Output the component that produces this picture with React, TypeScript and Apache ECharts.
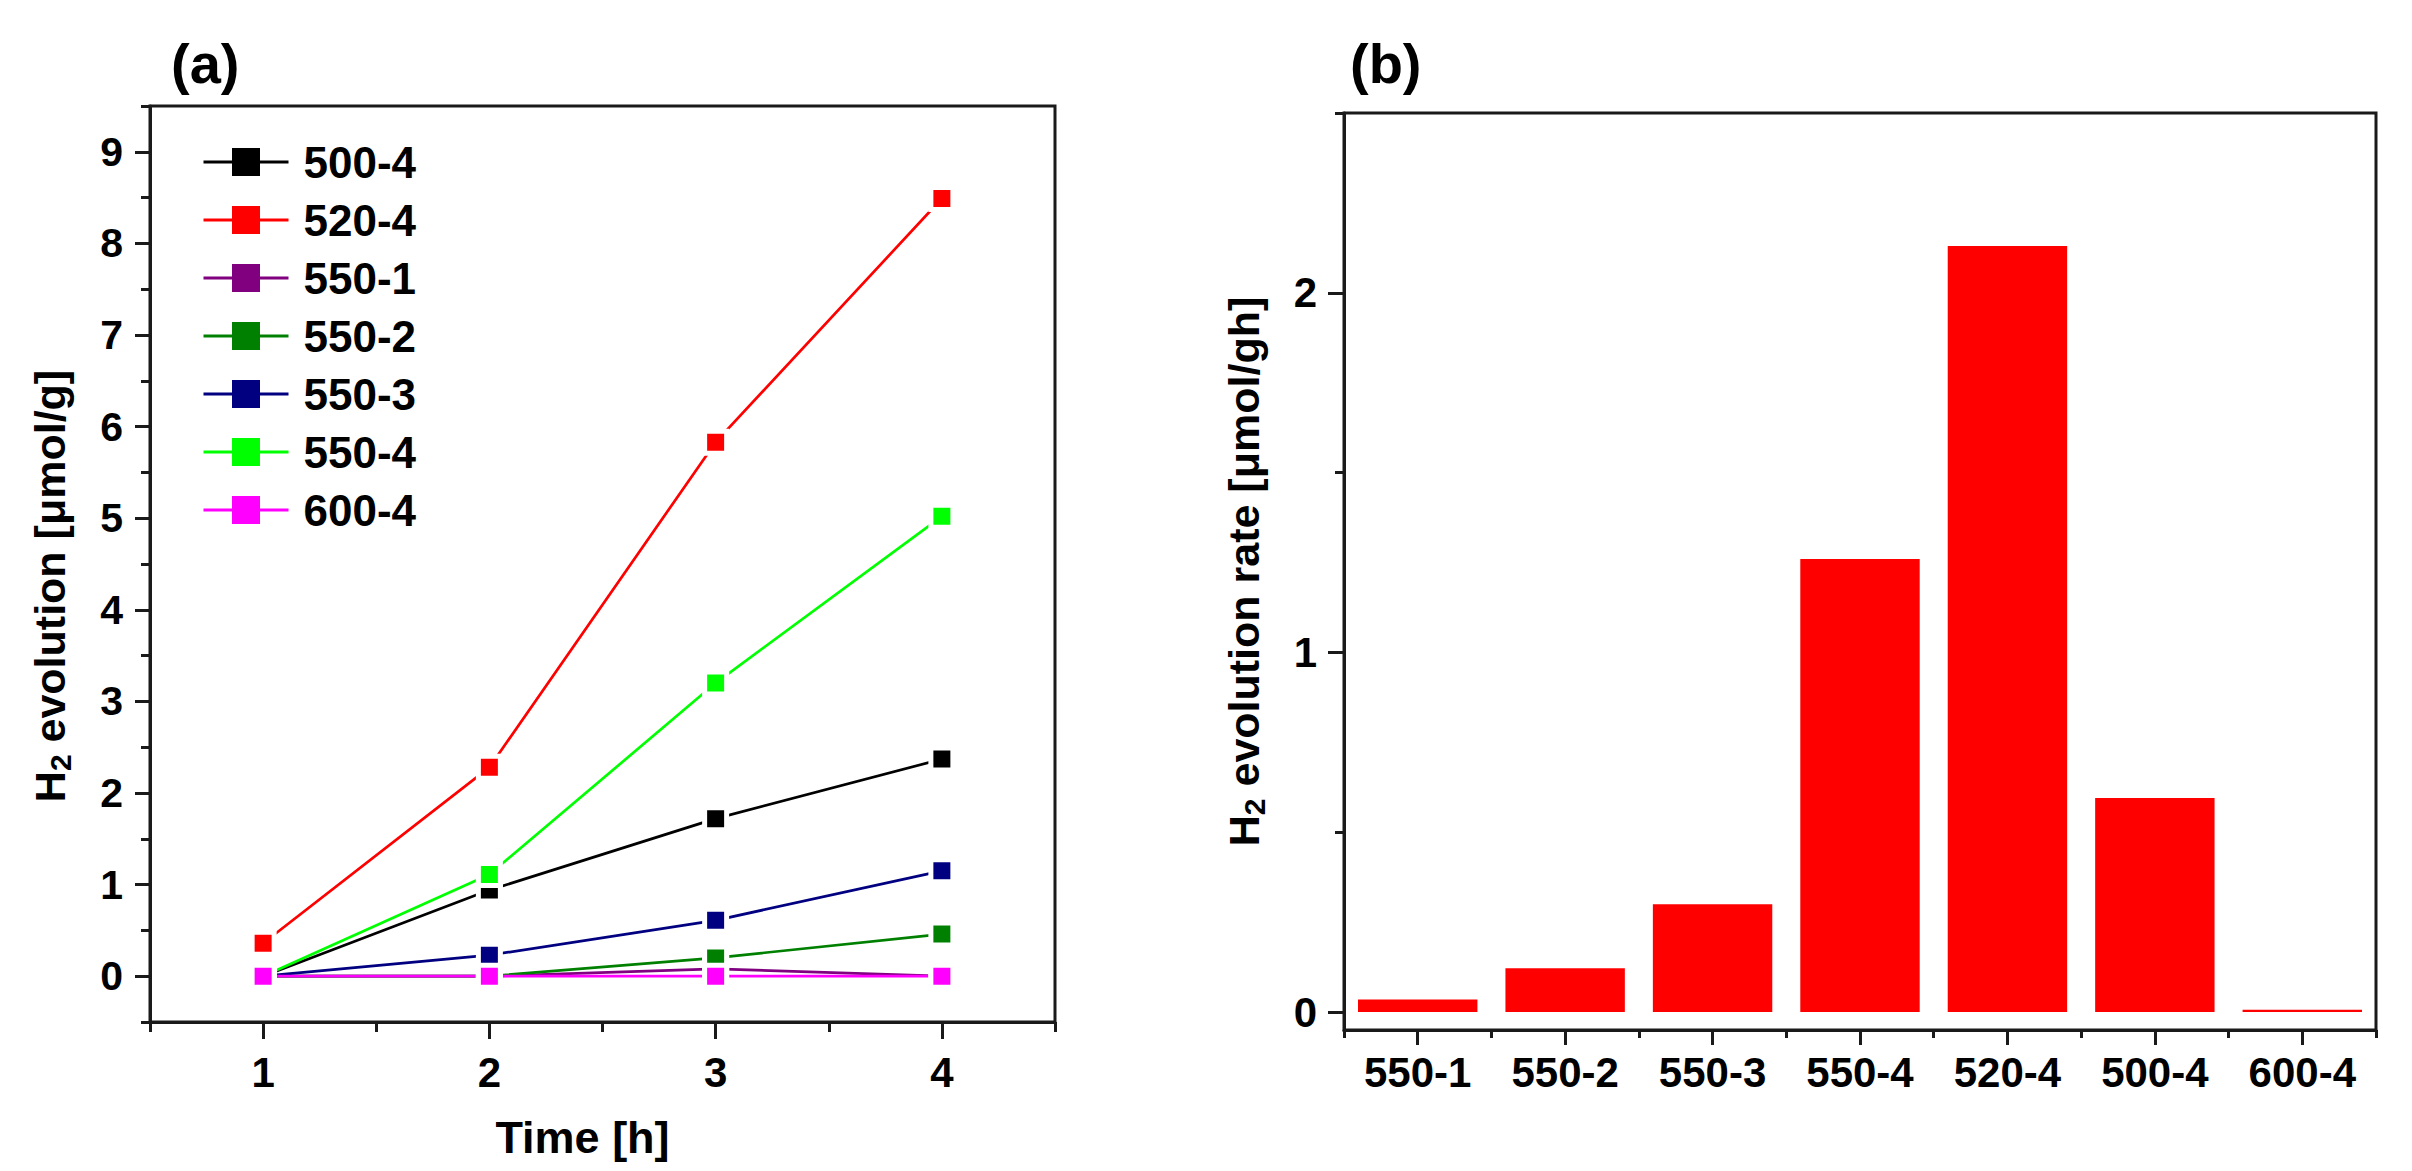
import React, { useEffect, useRef } from "react";
import * as echarts from "echarts";

const FONT = "'Liberation Sans', Arial, sans-serif";

// (a) H2 evolution over time
const TIMES = [1, 2, 3, 4];
const S500_4 = [0, 0.94, 1.72, 2.37];
const S520_4 = [0.36, 2.28, 5.83, 8.49];
const S550_1 = [0, 0, 0.08, 0];
const S550_2 = [0, 0, 0.2, 0.46];
const S550_3 = [0, 0.23, 0.61, 1.15];
const S550_4 = [0, 1.11, 3.2, 5.02];
const S600_4 = [0, 0, 0, 0];
const LINE_NAMES = ["500-4", "520-4", "550-1", "550-2", "550-3", "550-4", "600-4"];
const LINE_COLORS = ["#000000", "#ff0000", "#800080", "#008000", "#000080", "#00ff00", "#ff00ff"];
const LINE_VALUES = [S500_4, S520_4, S550_1, S550_2, S550_3, S550_4, S600_4];

const TIME_TICKS = [1, 2, 3, 4];
const TIME_MINOR = [0.5, 1.5, 2.5, 3.5, 4.5];
const EVO_TICKS = [0, 1, 2, 3, 4, 5, 6, 7, 8, 9];
const EVO_MINOR = [-0.5, 0.5, 1.5, 2.5, 3.5, 4.5, 5.5, 6.5, 7.5, 8.5, 9.5];

// (b) H2 evolution rate per sample
const RATE_CATEGORIES = ["550-1", "550-2", "550-3", "550-4", "520-4", "500-4", "600-4"];
const RATE_VALUES = [0.035, 0.122, 0.3, 1.26, 2.13, 0.595, 0.006];
const RATE_TICKS = [0, 1, 2];
const RATE_MINOR = [0.5, 1.5, 2.5];

const AXIS_COLOR = "#1a1a1a";

const nameRich = {
    b: { fontSize: 43, fontWeight: "bold" as const, fontFamily: FONT, color: "#000", lineHeight: 50 },
    s: { fontSize: 30, fontWeight: "bold" as const, fontFamily: FONT, color: "#000", lineHeight: 16, verticalAlign: "bottom" as const },
};

const App: React.FC = () => {
    const ref = useRef<HTMLDivElement | null>(null);

    useEffect(() => {
        document.body.style.margin = "0";
        if (!ref.current) return;
        const inst = echarts.init(ref.current, undefined, { renderer: "svg" });

        const tickLabel = { fontSize: 41, fontWeight: "bold" as const, fontFamily: FONT, color: "#000" };

        inst.setOption({
            animation: false,
            backgroundColor: "#fff",
            title: [
                { text: "(a)", left: 166, top: 30, textStyle: { fontSize: 56, fontWeight: "bold", fontFamily: FONT, color: "#000" } },
                { text: "(b)", left: 1345, top: 30, textStyle: { fontSize: 56, fontWeight: "bold", fontFamily: FONT, color: "#000" } },
            ],
            legend: {
                data: LINE_NAMES,
                orient: "vertical",
                left: 197,
                top: 135,
                itemWidth: 85,
                itemHeight: 35,
                itemGap: 14,
                selectedMode: false,
                itemStyle: { borderWidth: 0 },
                lineStyle: { width: 3 },
                textStyle: { fontSize: 44, fontWeight: "bold", fontFamily: FONT, color: "#000", padding: [0, 0, 0, 10] },
            },
            grid: [
                { left: 150, top: 106, width: 905, height: 916, show: true, borderColor: AXIS_COLOR, borderWidth: 3, backgroundColor: "transparent" },
                { left: 1344, top: 113, width: 1032, height: 917, show: true, borderColor: AXIS_COLOR, borderWidth: 3, backgroundColor: "transparent" },
            ],
            xAxis: [
                {
                    type: "value", gridIndex: 0, position: "bottom", min: 0.5, max: 4.5,
                    axisLine: { show: true, onZero: false, lineStyle: { color: AXIS_COLOR, width: 3 } },
                    axisTick: { show: true, inside: false, length: 17, customValues: TIME_TICKS, lineStyle: { color: AXIS_COLOR, width: 3 } },
                    axisLabel: { ...tickLabel, fontSize: 42, margin: 29, customValues: TIME_TICKS },
                    splitLine: { show: false },
                    name: "Time [h]", nameLocation: "middle", nameGap: 93,
                    nameTextStyle: { fontSize: 45, fontWeight: "bold", fontFamily: FONT, color: "#000", padding: [0, 40, 0, 0] },
                },
                {
                    type: "value", gridIndex: 0, position: "bottom", min: 0.5, max: 4.5,
                    axisLine: { show: false, onZero: false },
                    axisTick: { show: true, inside: false, length: 10, customValues: TIME_MINOR, lineStyle: { color: AXIS_COLOR, width: 3 } },
                    axisLabel: { show: false },
                    splitLine: { show: false },
                },
                {
                    type: "category", gridIndex: 1, position: "bottom", data: RATE_CATEGORIES,
                    axisLine: { show: true, onZero: false, lineStyle: { color: AXIS_COLOR, width: 3 } },
                    axisTick: { show: true, inside: false, length: 15, alignWithLabel: true, lineStyle: { color: AXIS_COLOR, width: 3 } },
                    axisLabel: { ...tickLabel, fontSize: 42, margin: 21, interval: 0 },
                    splitLine: { show: false },
                },
                {
                    type: "category", gridIndex: 1, position: "bottom", data: RATE_CATEGORIES,
                    axisLine: { show: false, onZero: false },
                    axisTick: { show: true, inside: false, length: 8, alignWithLabel: false, interval: 0, lineStyle: { color: AXIS_COLOR, width: 3 } },
                    axisLabel: { show: false },
                    splitLine: { show: false },
                },
            ],
            yAxis: [
                {
                    type: "value", gridIndex: 0, position: "left", min: -0.5, max: 9.5,
                    axisLine: { show: true, onZero: false, lineStyle: { color: AXIS_COLOR, width: 3 } },
                    axisTick: { show: true, inside: false, length: 15, customValues: EVO_TICKS, lineStyle: { color: AXIS_COLOR, width: 3 } },
                    axisLabel: { ...tickLabel, margin: 27, customValues: EVO_TICKS },
                    splitLine: { show: false },
                    name: "{b|H}{s|2}{b| evolution [μmol/g]}", nameLocation: "middle", nameGap: 75,
                    nameTextStyle: { rich: nameRich, padding: [0, 44, 0, 0] },
                },
                {
                    type: "value", gridIndex: 0, position: "left", min: -0.5, max: 9.5,
                    axisLine: { show: false, onZero: false },
                    axisTick: { show: true, inside: false, length: 9, customValues: EVO_MINOR, lineStyle: { color: AXIS_COLOR, width: 3 } },
                    axisLabel: { show: false },
                    splitLine: { show: false },
                },
                {
                    type: "value", gridIndex: 1, position: "left", min: -0.05, max: 2.5,
                    axisLine: { show: true, onZero: false, lineStyle: { color: AXIS_COLOR, width: 3 } },
                    axisTick: { show: true, inside: false, length: 16, customValues: RATE_TICKS, lineStyle: { color: AXIS_COLOR, width: 3 } },
                    axisLabel: { ...tickLabel, fontSize: 42, margin: 27, customValues: RATE_TICKS },
                    splitLine: { show: false },
                    name: "{b|H}{s|2}{b| evolution rate [μmol/gh]}", nameLocation: "middle", nameGap: 75,
                    nameTextStyle: { rich: nameRich },
                },
                {
                    type: "value", gridIndex: 1, position: "left", min: -0.05, max: 2.5,
                    axisLine: { show: false, onZero: false },
                    axisTick: { show: true, inside: false, length: 9, customValues: RATE_MINOR, lineStyle: { color: AXIS_COLOR, width: 3 } },
                    axisLabel: { show: false },
                    splitLine: { show: false },
                },
            ],
            series: [
                ...LINE_NAMES.map((name, i) => ({
                    name,
                    type: "line",
                    xAxisIndex: 0,
                    yAxisIndex: 0,
                    data: TIMES.map((t, j) => [t, LINE_VALUES[i][j]]),
                    symbol: "rect",
                    symbolSize: 22,
                    lineStyle: { color: LINE_COLORS[i], width: 2.7 },
                    itemStyle: { color: LINE_COLORS[i], borderColor: "#fff", borderWidth: 5 },
                    emphasis: { disabled: true },
                })),
                {
                    name: "rate",
                    type: "bar",
                    xAxisIndex: 2,
                    yAxisIndex: 2,
                    data: RATE_VALUES,
                    barCategoryGap: "19%",
                    itemStyle: { color: "#ff0000" },
                    emphasis: { disabled: true },
                },
            ],
        });

        return () => {
            inst.dispose();
        };
    }, []);

    return <div ref={ref} style={{ width: 2412, height: 1171 }} />;
};

export default App;
